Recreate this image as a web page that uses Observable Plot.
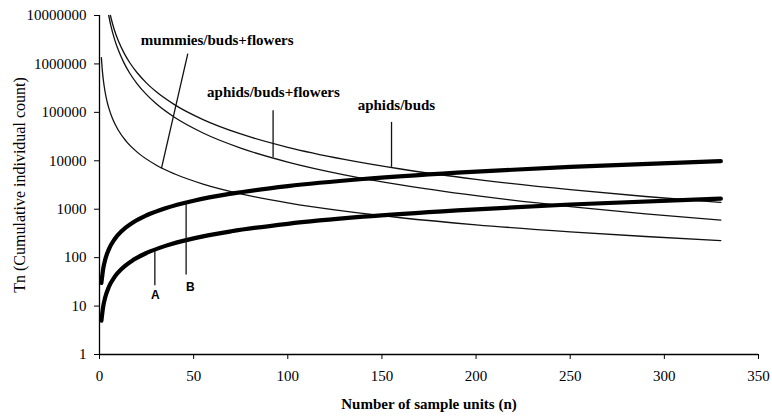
<!DOCTYPE html>
<html>
<head>
<meta charset="utf-8">
<script src="https://cdn.jsdelivr.net/npm/d3@7"></script>
<script src="https://cdn.jsdelivr.net/npm/@observablehq/plot@0.6"></script>
<style>
  html, body { margin: 0; padding: 0; background: #fff; }
  #chart { width: 772px; height: 416px; }
</style>
</head>
<body>
<div id="chart"></div>
<script>
// ---- Data ----
const xTicks = [0, 50, 100, 150, 200, 250, 300, 350];
const yTicks = [1, 10, 100, 1000, 10000, 100000, 1000000, 10000000];

// stop line: aphids/buds
const nAphidsBuds = [5.8, 7, 8, 10, 13, 16, 20, 25, 30, 40, 55, 75, 100, 130, 160, 200, 250, 290, 330];
const aphidsBuds  = [10000000, 6600000, 4900000, 3000000, 1690000, 1070000, 657000, 402000, 269000, 143000, 71000, 35800, 19000, 10700, 6770, 4140, 2540, 1830, 1380];

// stop line: aphids/buds+flowers
const nAphidsBF = [4.9, 6, 8, 10, 13, 16, 20, 25, 30, 40, 55, 75, 100, 130, 160, 200, 250, 290, 330];
const aphidsBF  = [10000000, 6260000, 3220000, 1930000, 1050000, 650000, 388000, 232000, 152000, 78200, 37500, 18300, 9430, 5140, 3180, 1900, 1135, 805, 598];

// stop line: mummies/buds+flowers
const nMummies = [1, 1.5, 2, 3, 4, 5, 7, 10, 14, 20, 30, 40, 55, 75, 100, 130, 160, 200, 250, 290, 330];
const mummies  = [1350000, 735000, 477000, 260000, 169000, 121000, 72900, 42700, 25800, 15100, 8200, 5340, 3310, 2080, 1350, 911, 667, 477, 342, 273, 225];

// cumulative counts A and B
const nCum = [1, 2, 3, 5, 8, 12, 18, 25, 35, 50, 70, 100, 140, 190, 250, 330];
const cumA = [5, 10, 15, 25, 40, 60, 90, 125, 175, 250, 350, 500, 700, 950, 1250, 1650];
const cumB = [30, 60, 90, 150, 240, 360, 540, 750, 1050, 1500, 2100, 3000, 4200, 5700, 7500, 9800];

// annotation labels and leader lines
const serifLabels = [
  {text: "mummies/buds+flowers", n: 62.5, v: 3100000},
  {text: "aphids/buds+flowers", n: 92.4, v: 265000},
  {text: "aphids/buds", n: 157.7, v: 141000}
];
const sansLabels = [
  {text: "A", n: 29.7, v: 16.8},
  {text: "B", n: 48.3, v: 24.9}
];
const leaders = [
  {n1: 46.9, v1: 1640000, n2: 32.9, v2: 7000},
  {n1: 92.2, v1: 111000, n2: 92.2, v2: 12000},
  {n1: 155.1, v1: 63500, n2: 155.1, v2: 7480},
  {n1: 29.4, v1: 140, n2: 29.4, v2: 27},
  {n1: 46, v1: 1380, n2: 46, v2: 45}
];

const toRows = (ns, vs) => ns.map((n, i) => ({n, v: vs[i]}));

const serif = "Liberation Serif, Times New Roman, serif";
const sans = "Liberation Sans, Arial, sans-serif";

const chart = Plot.plot({
  width: 772,
  height: 416,
  marginLeft: 99,
  marginRight: 14,
  marginTop: 15,
  marginBottom: 62,
  style: {fontFamily: serif, fontSize: "15px", color: "#000", background: "#fff", overflow: "visible"},
  x: {domain: [0, 350]},
  y: {type: "log", domain: [1, 10000000]},
  marks: [
    // tick marks only; tick labels are drawn as serif text marks below
    Plot.axisX({ticks: xTicks, tickSize: 5, tickFormat: () => "", label: null, stroke: "#000"}),
    Plot.axisY({ticks: yTicks, tickSize: 5, tickFormat: () => "", label: null, stroke: "#000"}),
    Plot.text(xTicks, {x: d => d, text: d => String(d), frameAnchor: "bottom", dy: 26, fontFamily: serif, fontSize: 15, fill: "#000"}),
    Plot.text(yTicks, {y: d => d, text: d => String(d), frameAnchor: "left", textAnchor: "end", dx: -13, fontFamily: serif, fontSize: 15, fill: "#000"}),
    Plot.ruleY([1], {stroke: "#000", strokeWidth: 1.3}),
    Plot.ruleX([0], {stroke: "#000", strokeWidth: 1.3}),
    Plot.line(toRows(nAphidsBuds, aphidsBuds), {x: "n", y: "v", curve: "monotone-x", stroke: "#111", strokeWidth: 1.3}),
    Plot.line(toRows(nAphidsBF, aphidsBF), {x: "n", y: "v", curve: "monotone-x", stroke: "#111", strokeWidth: 1.3}),
    Plot.line(toRows(nMummies, mummies), {x: "n", y: "v", curve: "monotone-x", stroke: "#111", strokeWidth: 1.3}),
    Plot.line(toRows(nCum, cumA), {x: "n", y: "v", curve: "monotone-x", stroke: "#000", strokeWidth: 4.2, strokeLinecap: "round"}),
    Plot.line(toRows(nCum, cumB), {x: "n", y: "v", curve: "monotone-x", stroke: "#000", strokeWidth: 4.2, strokeLinecap: "round"}),
    Plot.link(leaders, {x1: "n1", y1: "v1", x2: "n2", y2: "v2", stroke: "#111", strokeWidth: 1.3}),
    Plot.text(serifLabels, {x: "n", y: "v", text: "text", fontFamily: serif, fontWeight: "bold", fontSize: 15, fill: "#000"}),
    Plot.text(sansLabels, {x: "n", y: "v", text: "text", fontFamily: sans, fontWeight: "bold", fontSize: 12, fill: "#000"}),
    Plot.text(["Number of sample units (n)"], {frameAnchor: "bottom", dy: 54, fontFamily: serif, fontWeight: "bold", fontSize: 15, fill: "#000"}),
    Plot.text(["Tn (Cumulative individual count)"], {frameAnchor: "left", textAnchor: "middle", dx: -80, rotate: -90, fontFamily: serif, fontSize: 16, fill: "#000"})
  ]
});
document.getElementById("chart").appendChild(chart);
</script>
</body>
</html>
